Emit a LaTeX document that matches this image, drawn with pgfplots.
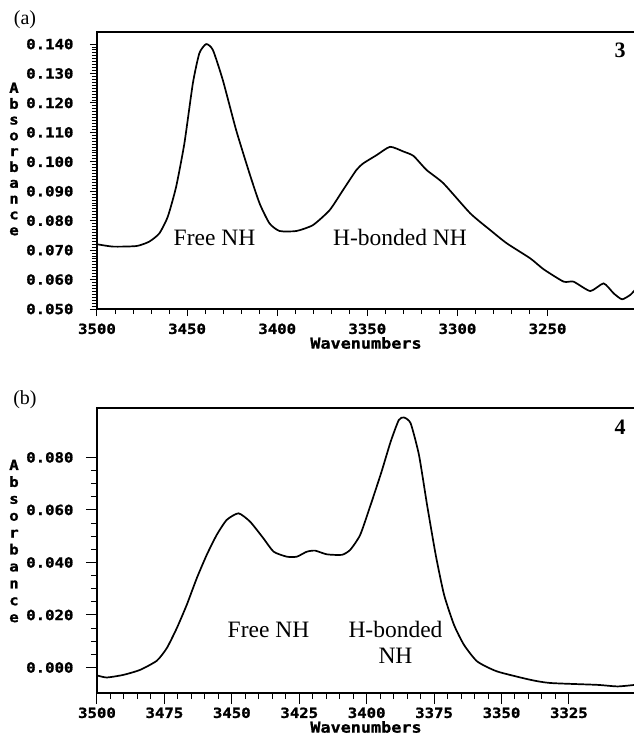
\documentclass[border=0pt]{standalone}
\usepackage{fontspec}
\setmainfont{Liberation Serif}
\newfontfamily\tickfont[FakeStretch=1.12, BoldFeatures={FakeBold=1.2}]{DejaVu Sans Mono}
\usepackage{pgfplots}
\pgfplotsset{compat=1.18}

\pgfplotsset{
    irbase/.style={
        scale only axis,
        anchor=north west,
        x dir=reverse,
        axis line style={black, line width=1.2pt},
        tick align=outside,
        xtick pos=bottom, ytick pos=left,
        tick style={black, line width=1pt},
        ticklabel style={font=\tickfont\bfseries\fontsize{14}{16}\selectfont},
        /pgf/number format/assume math mode=true,
        scaled x ticks=false, scaled y ticks=false,
        xticklabel style={/pgf/number format/fixed, /pgf/number format/1000 sep={}},
        yticklabel style={/pgf/number format/fixed, /pgf/number format/fixed zerofill,
                          /pgf/number format/precision=3},
        clip=false,
    },
    spec/.style={black, line width=1.7pt, smooth, tension=0.35, mark=none},
}

\begin{document}
\begin{tikzpicture}
% (a) compound 3
\begin{axis}[
    irbase,
    at={(97pt,-32pt)}, width=538pt, height=277pt,
    xmin=3201.5, xmax=3500,
    xtick={3250,3300,3350,3400,3450,3500}, minor x tick num=4,
    ymin=0.050, ymax=0.1441,
    ytick={0.05,0.06,0.07,0.08,0.09,0.10,0.11,0.12,0.13,0.14}, minor y tick num=9,
    major tick length=7pt, minor tick length=5pt,
    xticklabel style={yshift=-4pt},
    yticklabel style={xshift=-13pt},
]
\addplot[spec] coordinates {
 (3500,0.0720)(3491,0.0712)(3478,0.0714)(3471,0.0729)(3465.4,0.0757)(3460.7,0.0814)
 (3456.1,0.0915)(3451.5,0.1063)(3446.8,0.1267)(3443.2,0.1369)(3439.4,0.1400)(3435.7,0.1380)
 (3430.2,0.1278)(3422.8,0.1108)(3415.4,0.0961)(3409.8,0.0859)(3404.3,0.0791)(3398.7,0.0765)
 (3389.4,0.0765)(3380.2,0.0785)(3370.9,0.0836)(3363.5,0.0904)(3356.1,0.0972)(3352.2,0.0995)
 (3344.8,0.1023)(3337.4,0.1051)(3330,0.1035)(3324.4,0.1020)(3317.1,0.0972)(3307.8,0.0927)
 (3292.9,0.0825)(3281.8,0.0768)(3272.6,0.0723)(3259.6,0.0672)(3252.2,0.0635)(3241.1,0.0593)
 (3235.6,0.0593)(3226.3,0.0561)(3218.9,0.0587)(3213.3,0.0553)(3208.7,0.0533)(3204.1,0.0548)
 (3201.5,0.0565)};
\end{axis}

% (b) compound 4
\begin{axis}[
    irbase,
    at={(97pt,-408pt)}, width=538pt, height=285pt,
    xmin=3300.5, xmax=3500,
    xtick={3325,3350,3375,3400,3425,3450,3475,3500}, minor x tick num=4,
    ymin=-0.0097, ymax=0.0988,
    ytick={0,0.02,0.04,0.06,0.08}, minor y tick num=3,
    major tick length=11pt, minor tick length=6pt,
    xticklabel style={yshift=0pt},
    yticklabel style={xshift=-9pt},
]
\addplot[spec] coordinates {
 (3500,-0.0030)(3496.4,-0.0038)(3490.2,-0.0028)(3484.0,-0.0009)(3477.8,0.0026)(3474.1,0.0074)
 (3470.4,0.0150)(3466.7,0.0239)(3463.0,0.0340)(3459.3,0.0429)(3455.6,0.0505)(3451.9,0.0562)
 (3447.5,0.0587)(3443.2,0.0555)(3438.3,0.0492)(3434.5,0.0441)(3429.6,0.0422)(3425.9,0.0422)
 (3422.2,0.0441)(3419.1,0.0445)(3414.8,0.0431)(3409.2,0.0429)(3406.1,0.0448)(3402.4,0.0505)
 (3398.5,0.0620)(3394.5,0.0745)(3391.1,0.0860)(3388.1,0.0942)(3386.2,0.0952)(3383.7,0.0930)
 (3380.6,0.0809)(3377.6,0.0619)(3374.4,0.0429)(3371.3,0.0277)(3367.6,0.0162)(3363.9,0.0086)
 (3359.0,0.0023)(3351.6,-0.0015)(3339.2,-0.0047)(3331.8,-0.0059)(3314.5,-0.0066)(3307.0,-0.0072)
 (3300.5,-0.0066)};
\end{axis}

% panel letters and compound numbers
\node[font=\fontsize{20}{22}\selectfont] at (25pt,-20pt) {(a)};
\node[font=\fontsize{20}{22}\selectfont] at (25pt,-400pt) {(b)};
\node[font=\bfseries\fontsize{22}{24}\selectfont] at (620pt,-50pt) {3};
\node[font=\bfseries\fontsize{22}{24}\selectfont] at (620pt,-427pt) {4};

% stacked y labels and x labels
\node[font=\tickfont\bfseries\fontsize{14}{15.8}\selectfont, align=center, inner sep=0pt]
  at (14pt,-159pt) {A\\b\\s\\o\\r\\b\\a\\n\\c\\e};
\node[font=\tickfont\bfseries\fontsize{14}{16.9}\selectfont, align=center, inner sep=0pt]
  at (14pt,-541pt) {A\\b\\s\\o\\r\\b\\a\\n\\c\\e};
\node[font=\tickfont\bfseries\fontsize{15}{17}\selectfont] at (366pt,-343pt) {Wavenumbers};
\node[font=\tickfont\bfseries\fontsize{15}{17}\selectfont] at (366pt,-727pt) {Wavenumbers};

% band annotations
\node[font=\fontsize{23.5}{26}\selectfont, anchor=base, inner sep=0pt] at (214.5pt,-245pt) {Free NH};
\node[font=\fontsize{23.5}{26}\selectfont, anchor=base, inner sep=0pt] at (400pt,-245pt) {H-bonded NH};
\node[font=\fontsize{23.5}{26}\selectfont, anchor=base, inner sep=0pt] at (268.5pt,-637pt) {Free NH};
\node[font=\fontsize{23.5}{26}\selectfont, anchor=base, inner sep=0pt] at (395.5pt,-637pt) {H-bonded};
\node[font=\fontsize{23.5}{26}\selectfont, anchor=base, inner sep=0pt] at (395.5pt,-663pt) {NH};

\pgfresetboundingbox
\path (0pt,0pt) rectangle (634pt,-737pt);
\end{tikzpicture}
\end{document}
